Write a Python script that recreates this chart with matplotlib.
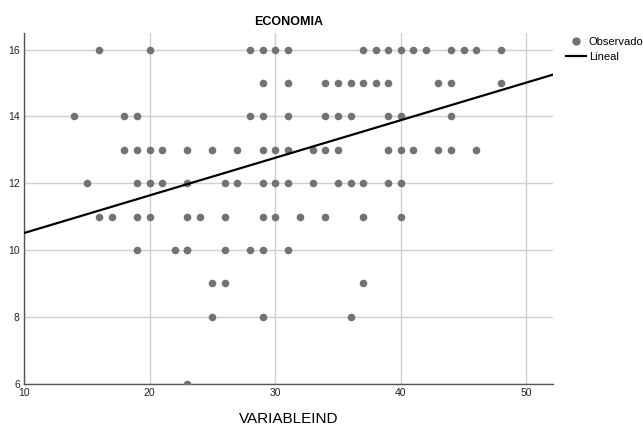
import numpy as np
import matplotlib
matplotlib.use("Agg")
import matplotlib.pyplot as plt
from matplotlib.lines import Line2D

plt.rcParams['font.family'] = ['Liberation Sans', 'DejaVu Sans']

# observed points, grouped by ECONOMIA value
rows = {
    16: [16, 20, 28, 29, 30, 31, 37, 38, 39, 40, 41, 42, 44, 45, 46, 48],
    15: [29, 31, 34, 35, 36, 37, 38, 39, 43, 44, 48],
    14: [14, 18, 19, 28, 29, 31, 34, 35, 36, 39, 40, 44],
    13: [18, 19, 20, 21, 23, 25, 27, 29, 30, 31, 33, 34, 35, 39, 40, 41, 43, 44, 46],
    12: [15, 19, 20, 21, 23, 26, 27, 29, 30, 31, 33, 35, 36, 37, 39, 40],
    11: [16, 17, 19, 20, 23, 24, 26, 29, 30, 32, 34, 37, 40],
    10: [19, 22, 23, 23, 26, 28, 29, 31],
    9: [25, 26, 37],
    8: [25, 29, 36],
    6: [23],
}
x_obs = [x for y in rows for x in rows[y]]
y_obs = [y for y in rows for x in rows[y]]

# linear fit
intercept = 9.385
slope = 0.1126

x_ticks = [10, 20, 30, 40, 50]
y_ticks = [6, 8, 10, 12, 14, 16]

fig = plt.figure(figsize=(6.43, 4.25), dpi=100)
ax = fig.add_axes([24 / 643, 1 - 383.7 / 425, 528.7 / 643, 350.7 / 425])

ax.scatter(x_obs, y_obs, s=30, color='#737373', zorder=3, linewidths=0)
xl = np.array([10, 52.1])
ax.plot(xl, intercept + slope * xl, color='black', lw=1.6, zorder=4)

ax.set_xlim(10, 52.1)
ax.set_ylim(6, 16.5)
ax.set_xticks(x_ticks)
ax.set_yticks(y_ticks)
ax.grid(True, color='#d0d0d0', lw=1)
ax.set_axisbelow(True)
ax.tick_params(length=0, labelsize=7.5, colors='#222222', pad=3)
for s in ['top', 'right']:
    ax.spines[s].set_visible(False)
for s in ['left', 'bottom']:
    ax.spines[s].set_color('#555555')
    ax.spines[s].set_linewidth(1)

ax.set_title('ECONOMIA', fontsize=9, fontweight='bold', pad=6)
ax.set_xlabel('VARIABLEIND', fontsize=11, labelpad=10)

handles = [
    Line2D([], [], marker='o', color='#737373', ls='none', markersize=5),
    Line2D([], [], color='black', lw=1.6),
]
fig.legend(handles, ['Observado', 'Lineal'], loc='upper left',
           bbox_to_anchor=(560 / 643, 1 - 31 / 425), frameon=False,
           fontsize=8, handlelength=1.8, handletextpad=0.3,
           labelspacing=0.45, borderpad=0)

fig.savefig('out.png', dpi=100)
